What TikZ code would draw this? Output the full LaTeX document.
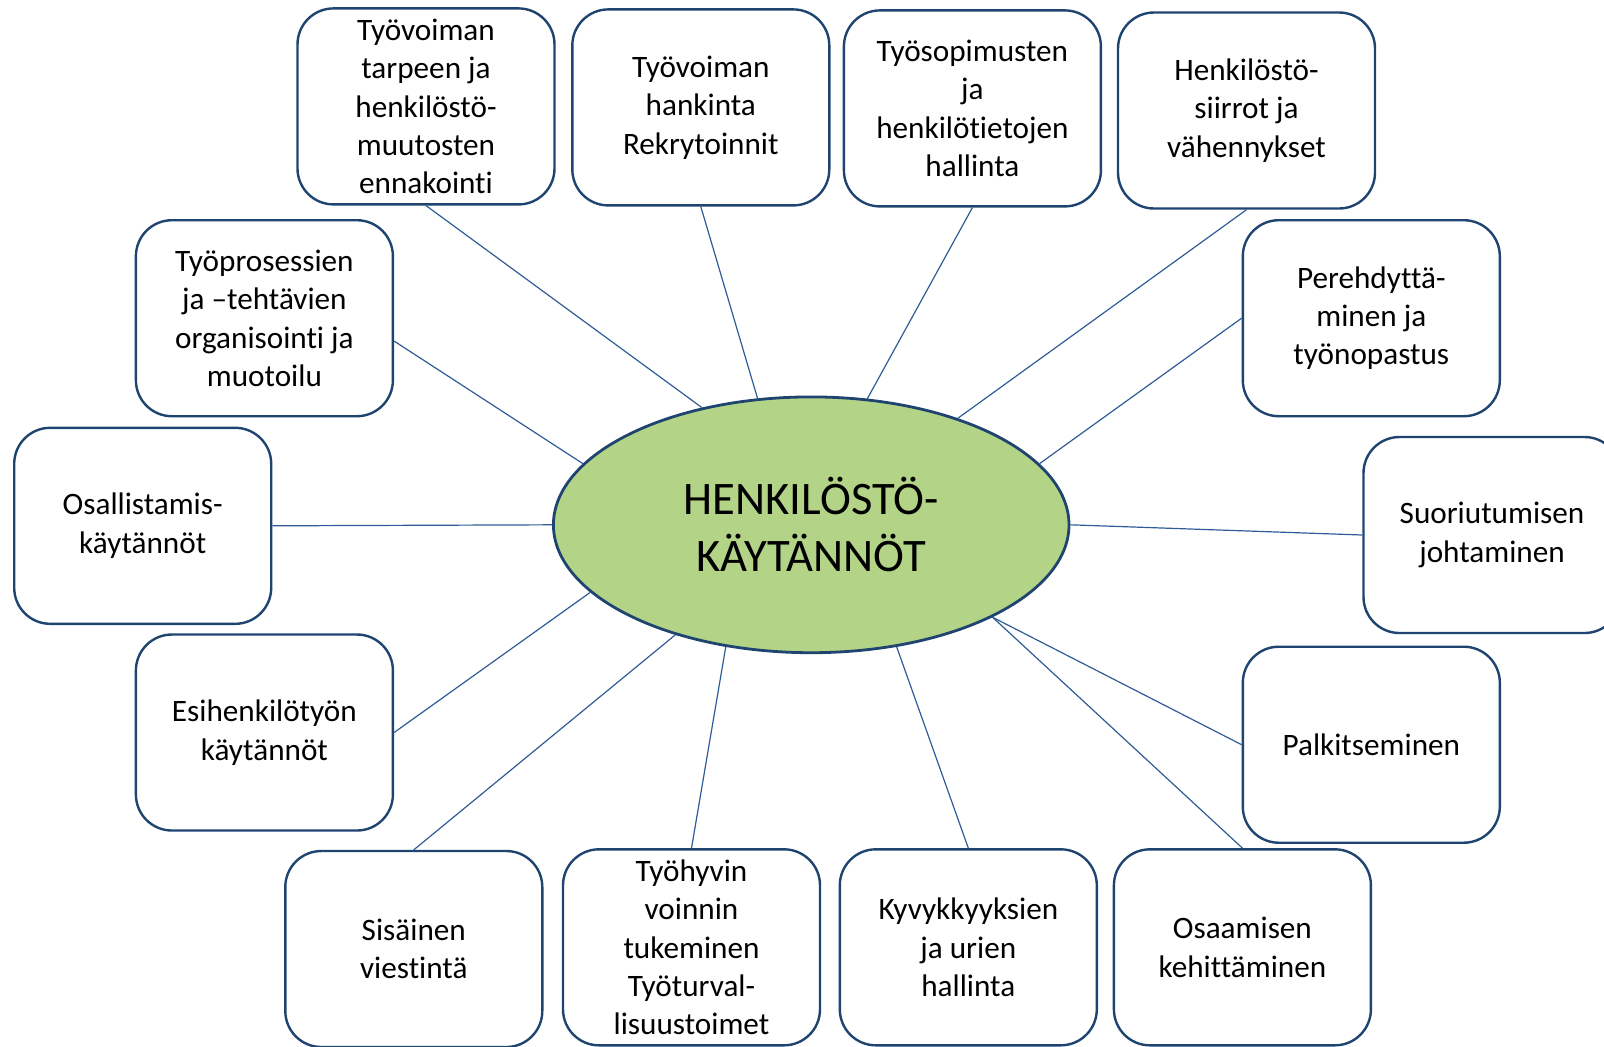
\documentclass[tikz,border=0pt]{standalone}
\usepackage{fontspec}
\setmainfont{Carlito}[Ligatures={NoCommon}]
\usetikzlibrary{shapes.geometric}
\definecolor{boxblue}{HTML}{1F4470}
\definecolor{lineblue}{HTML}{2F5C96}
\definecolor{hubgreen}{HTML}{B3D386}

\begin{document}
\begin{tikzpicture}[x=0.5pt,y=-0.5pt,
  topic/.style={draw=boxblue,line width=1.2pt,rounded corners=18pt,minimum width=128.5pt,minimum height=98pt,inner sep=0pt,align=center,font=\fontsize{15.6}{19.2}\selectfont},
  hub/.style={ellipse,draw=boxblue,line width=1.4pt,fill=hubgreen,minimum width=257.8pt,minimum height=127.9pt,align=center,font=\fontsize{23.3}{28.4}\selectfont},
  spoke/.style={draw=lineblue,line width=0.6pt}]
            \useasboundingbox (0,0) rectangle (1604,1046);
            \node[hub] (hub) at (811.2,524.8) {HENKILÖSTÖ-\\KÄYTÄNNÖT};
            \node[topic] (b1) at (426,106.4) {Työvoiman\\tarpeen ja\\henkilöstö-\\muutosten\\ennakointi};
            \node[topic] (b2) at (700.8,107.4) {Työvoiman\\hankinta\\Rekrytoinnit};
            \node[topic] (b3) at (972.4,108.4) {Työsopimusten\\ja\\henkilötietojen\\hallinta};
            \node[topic] (b4) at (1246.5,110.5) {Henkilöstö-\\siirrot ja\\vähennykset};
            \node[topic] (b5) at (1371.3,318.2) {Perehdyttä-\\minen ja\\työnopastus};
            \node[topic] (b6) at (1492,535) {Suoriutumisen\\johtaminen};
            \node[topic] (b7) at (1371.3,744.7) {Palkitseminen};
            \node[topic] (b8) at (1242.4,947.3) {Osaamisen\\kehittäminen};
            \node[topic] (b9) at (968.3,947.3) {Kyvykkyyksien\\ja urien\\hallinta};
            \node[topic] (b10) at (691.5,947.3) {Työhyvin\\voinnin\\tukeminen\\Työturval-\\lisuustoimet};
            \node[topic] (b11) at (413.8,949) {Sisäinen\\viestintä};
            \node[topic] (b12) at (264.4,732.5) {Esihenkilötyön\\käytännöt};
            \node[topic] (b13) at (142.7,525.8) {Osallistamis-\\käytännöt};
            \node[topic] (b14) at (264.4,318.2) {Työprosessien\\ja –tehtävien\\organisointi ja\\muotoilu};
            \draw[spoke] (b1.south) -- (hub.133);
            \draw[spoke] (b2.south) -- (hub.113);
            \draw[spoke] (b3.south) -- (hub.66);
            \draw[spoke] (b4.south) -- (hub.36);
            \draw[spoke] (b5.west) -- (hub.15);
            \draw[spoke] (b6.west) -- (hub.east);
            \draw[spoke] (b7.west) -- (hub.-27);
            \draw[spoke] (b8.north) -- (hub.-27);
            \draw[spoke] (b9.north) -- (hub.-55);
            \draw[spoke] (b10.north) -- (hub.-125);
            \draw[spoke] (b11.north) -- (hub.-141);
            \draw[spoke] (b12.east) -- (hub.-163);
            \draw[spoke] (b13.east) -- (hub.west);
            \draw[spoke] (b14.-10) -- (hub.165);
        \end{tikzpicture}
\end{document}
